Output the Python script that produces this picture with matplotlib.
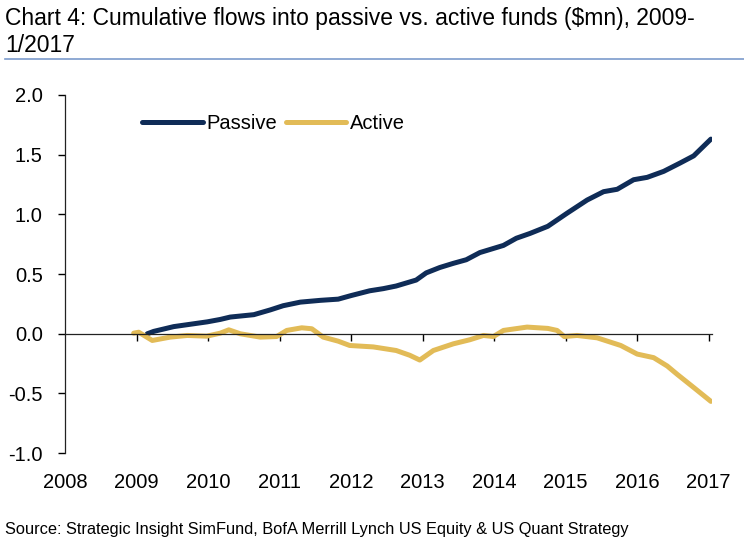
import matplotlib
matplotlib.use("Agg")
import matplotlib.pyplot as plt
from matplotlib.lines import Line2D

plt.rcParams['font.family'] = ['Liberation Sans Narrow', 'Liberation Sans', 'DejaVu Sans']

# decimal years, values
passive_x = [2009.15, 2009.24, 2009.52, 2009.99, 2010.17, 2010.31, 2010.64, 2010.87,
             2011.05, 2011.29, 2011.57, 2011.82, 2012.00, 2012.26, 2012.45, 2012.63,
             2012.91, 2013.05, 2013.24, 2013.43, 2013.61, 2013.80, 2014.13, 2014.31,
             2014.50, 2014.75, 2015.02, 2015.30, 2015.53, 2015.72, 2015.95, 2016.14,
             2016.37, 2016.60, 2016.79, 2017.03]
passive_y = [0.00, 0.02, 0.06, 0.10, 0.12, 0.14, 0.16, 0.20,
             0.235, 0.265, 0.28, 0.29, 0.32, 0.36, 0.378, 0.40,
             0.45, 0.51, 0.555, 0.59, 0.62, 0.68, 0.74, 0.80,
             0.84, 0.90, 1.01, 1.12, 1.19, 1.21, 1.29, 1.31,
             1.36, 1.43, 1.49, 1.63]

active_x = [2008.96, 2009.03, 2009.22, 2009.47, 2009.71, 2009.98, 2010.17, 2010.29,
            2010.45, 2010.73, 2010.96, 2011.10, 2011.31, 2011.45, 2011.61, 2011.82,
            2011.98, 2012.31, 2012.63, 2012.82, 2012.96, 2013.15, 2013.43, 2013.66,
            2013.85, 2013.99, 2014.13, 2014.46, 2014.75, 2014.88, 2014.98, 2015.16,
            2015.44, 2015.77, 2016.00, 2016.23, 2016.42, 2016.56, 2016.79, 2017.03]
active_y = [0.005, 0.013, -0.056, -0.028, -0.014, -0.02, 0.005, 0.033,
            0.0, -0.028, -0.023, 0.028, 0.05, 0.042, -0.028, -0.062,
            -0.098, -0.11, -0.14, -0.18, -0.22, -0.14, -0.084, -0.05,
            -0.014, -0.023, 0.028, 0.056, 0.045, 0.028, -0.023, -0.014,
            -0.034, -0.098, -0.17, -0.20, -0.27, -0.34, -0.45, -0.566]

years = list(range(2008, 2018))
yticks = [-1.0, -0.5, 0.0, 0.5, 1.0, 1.5, 2.0]

navy = '#0f2c57'
gold = '#e2bb57'

fig = plt.figure(figsize=(7.44, 5.52), dpi=100)
ax = fig.add_axes([0.0874, 0.179, 0.870, 0.649])

ax.plot(passive_x, passive_y, color=navy, lw=3.6, solid_capstyle='round', label='Passive')
ax.plot(active_x, active_y, color=gold, lw=3.6, solid_capstyle='round', label='Active')

ax.set_xlim(2008, 2017.05)
ax.set_ylim(-1.0, 2.0)

ax.spines['top'].set_visible(False)
ax.spines['right'].set_visible(False)
ax.spines['bottom'].set_position(('data', 0))
ax.spines['bottom'].set_color('#222222')
ax.spines['bottom'].set_linewidth(0.9)
ax.spines['left'].set_color('#222222')
ax.spines['left'].set_linewidth(0.9)

ax.set_xticks(years[1:])
ax.tick_params(axis='x', direction='out', length=5, width=1, labelbottom=False)
ax.set_yticks(yticks)
ax.set_yticklabels([f'{v:.1f}' for v in yticks])
ax.tick_params(axis='y', direction='out', length=5, width=1, pad=11, labelsize=14.5)

# year labels sit under the plot, the tick marks stay on the zero line
sec = ax.secondary_xaxis('bottom')
sec.set_xticks(years)
sec.set_xticklabels([str(y) for y in years])
sec.spines['bottom'].set_visible(False)
sec.tick_params(axis='x', length=0, pad=14, labelsize=14.5)

handles = [Line2D([], [], color=navy, lw=3.6, solid_capstyle='round'),
           Line2D([], [], color=gold, lw=3.6, solid_capstyle='round')]
ax.legend(handles, ['Passive', 'Active'], loc='upper left', bbox_to_anchor=(0.107, 0.97),
          ncol=2, frameon=False, fontsize=14.5, handlelength=3.0, handletextpad=0.2,
          columnspacing=0.4, borderaxespad=0)

fig.text(0.007, 0.966, 'Chart 4: Cumulative flows into passive vs. active funds (\\$mn), 2009-',
         fontsize=16.5, va='center', ha='left')
fig.text(0.007, 0.917, '1/2017', fontsize=16.5, va='center', ha='left')
fig.add_artist(Line2D([0.007, 1.0], [0.894, 0.894], color='#7b9bcc', lw=1.2))

fig.text(0.007, 0.04, 'Source: Strategic Insight SimFund, BofA Merrill Lynch US Equity & US Quant Strategy',
         fontsize=11.8, va='center', ha='left')

fig.savefig('out.png', dpi=100)
